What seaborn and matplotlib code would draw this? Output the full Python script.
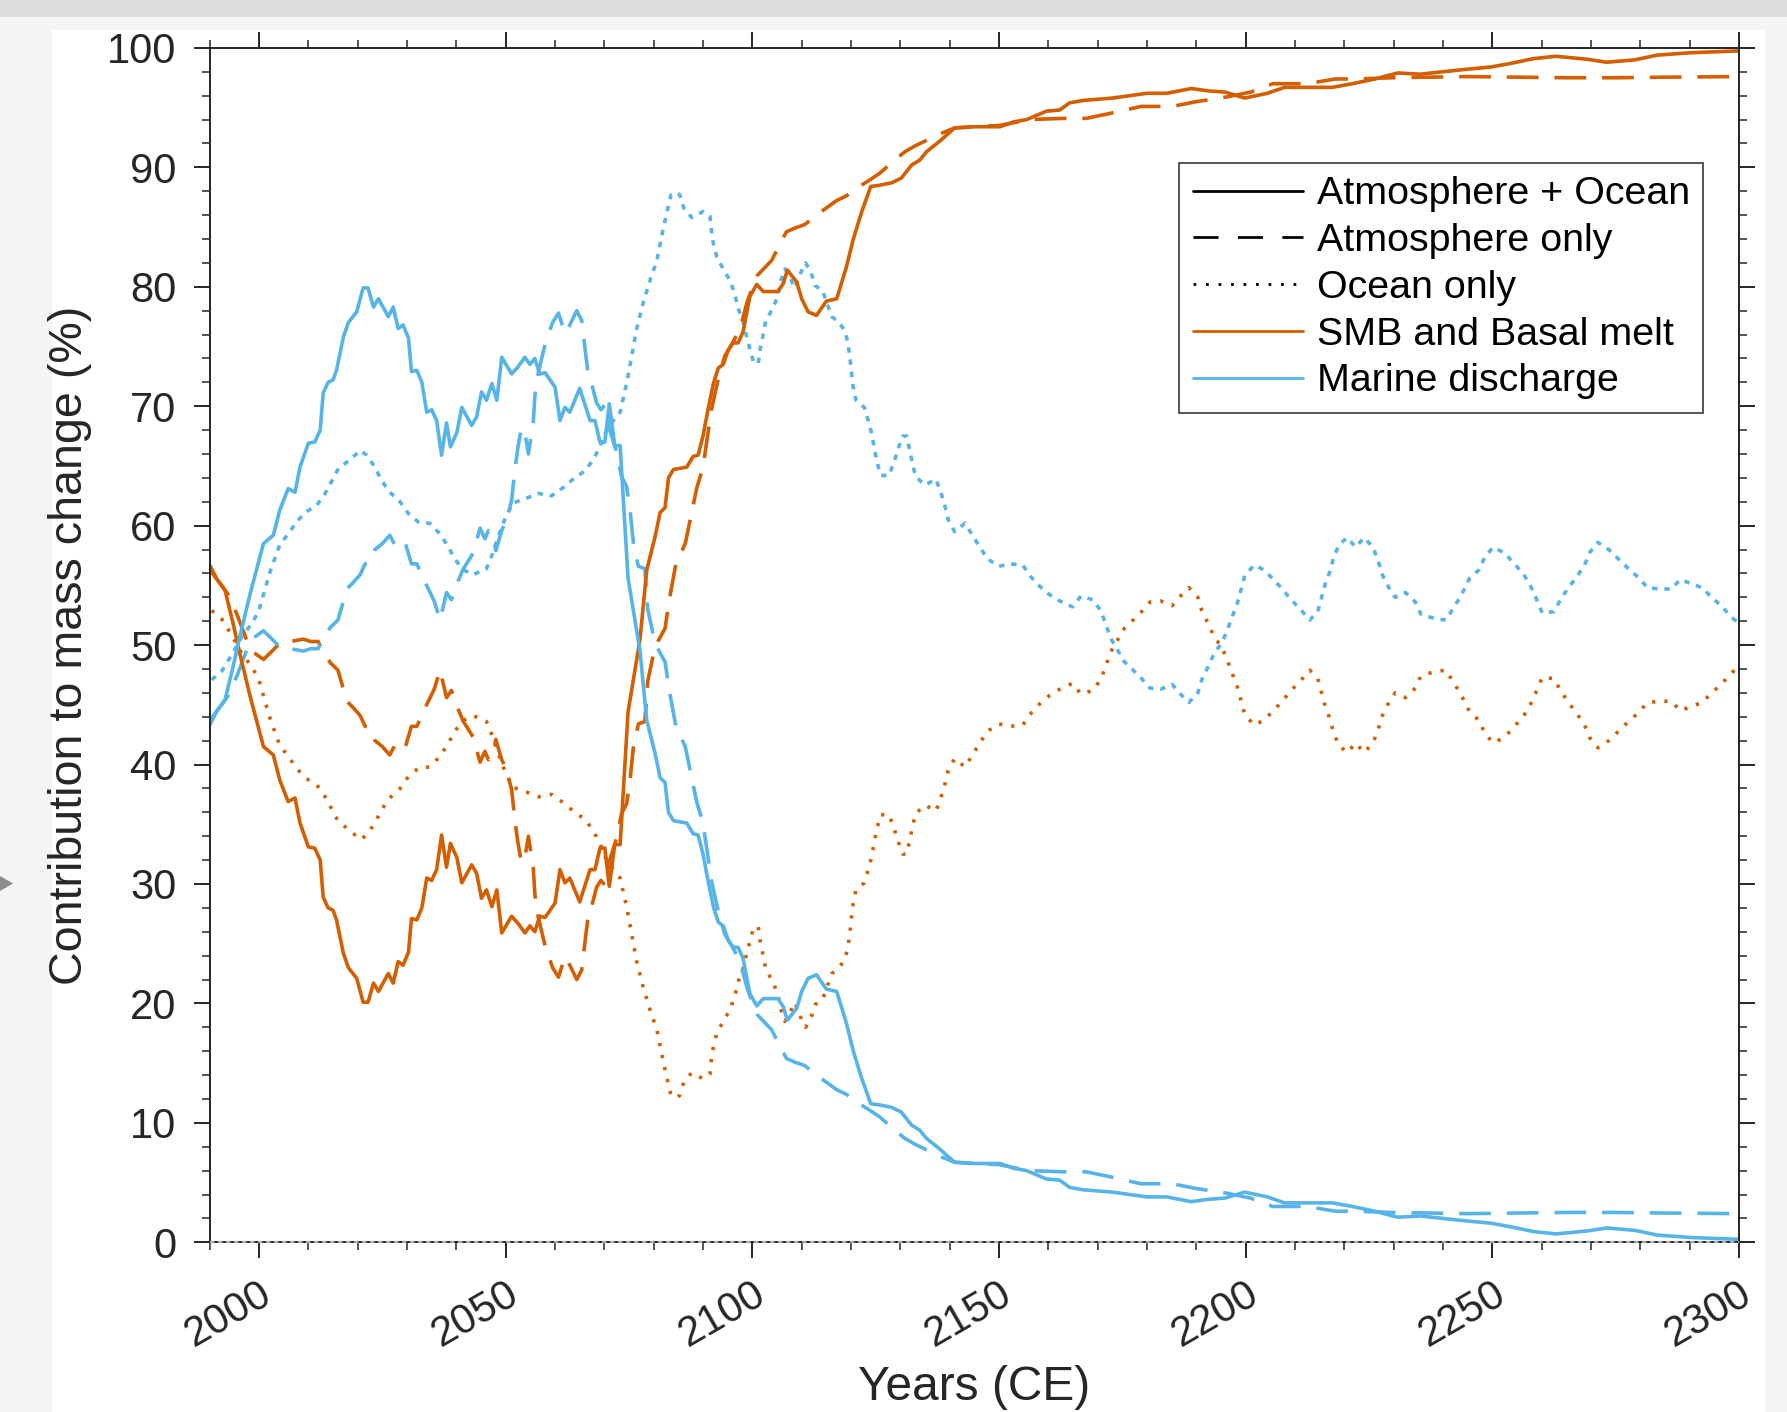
import matplotlib
matplotlib.use("Agg")
import matplotlib.pyplot as plt
import matplotlib.transforms as mtransforms
from matplotlib.lines import Line2D
from matplotlib.patches import Rectangle, Polygon
from matplotlib.ticker import MultipleLocator
import seaborn as sns

# ---------------- data ----------------
solid_years = [1990.0, 1991.5, 1993.1, 1994.8, 1996.1, 1998.2, 2000.9, 2002.9, 2004.2, 2005.9,
               2007.3, 2008.3, 2010.0, 2011.3, 2012.4, 2013.0, 2014.0, 2015.0, 2015.7, 2017.1,
               2018.1, 2019.8, 2021.1, 2022.1, 2023.2, 2024.2, 2026.2, 2027.2, 2028.2, 2029.2,
               2030.3, 2030.9, 2032.0, 2033.0, 2034.0, 2035.0, 2036.0, 2037.0, 2038.0, 2038.8,
               2040.1, 2041.1, 2043.1, 2044.1, 2045.1, 2046.1, 2047.2, 2048.2, 2049.2, 2051.2,
               2052.5, 2053.9, 2054.9, 2055.9, 2056.9, 2058.0, 2060.0, 2061.0, 2062.0, 2063.0,
               2065.0, 2067.1, 2068.1, 2069.1, 2070.1, 2071.0, 2072.1, 2073.2, 2074.8, 2077.2,
               2078.6, 2080.3, 2081.3, 2082.3, 2083.0, 2084.0, 2086.7, 2088.0, 2089.0, 2090.0,
               2091.0, 2092.1, 2093.1, 2094.1, 2095.1, 2096.1, 2097.1, 2098.1, 2099.5, 2100.9,
               2102.2, 2103.6, 2105.2, 2106.3, 2107.1, 2109.0, 2110.0, 2111.3, 2113.0, 2115.0,
               2117.1, 2119.1, 2120.4, 2122.1, 2124.0, 2125.8, 2128.2, 2130.2, 2132.3, 2133.9,
               2135.3, 2138.0, 2141.0, 2145.0, 2150.2, 2152.9, 2155.6, 2159.6, 2162.3, 2164.3,
               2167.0, 2173.0, 2180.0, 2184.0, 2189.0, 2192.4, 2195.8, 2199.8, 2204.4, 2207.9,
               2212.4, 2217.6, 2221.6, 2226.2, 2230.8, 2235.4, 2240.0, 2244.5, 2249.7, 2253.7,
               2258.3, 2262.9, 2269.2, 2273.2, 2278.9, 2283.5, 2290.4, 2300.0]
smb_atm_ocean = [56.7, 55.5, 54.6, 51.7, 49.3, 45.7, 41.5, 40.8, 38.7, 36.9,
                 37.2, 35.1, 33.1, 33.0, 32.0, 28.9, 28.0, 27.8, 27.0, 24.2,
                 23.0, 22.1, 20.1, 20.1, 21.7, 21.0, 22.5, 21.7, 23.5, 23.2,
                 24.3, 27.1, 27.0, 28.0, 30.5, 30.3, 31.2, 34.1, 31.4, 33.4,
                 32.2, 30.1, 31.6, 30.9, 28.8, 29.5, 28.1, 29.5, 25.9, 27.3,
                 26.7, 25.9, 26.5, 26.0, 27.3, 27.2, 28.4, 31.2, 30.1, 30.5,
                 28.5, 31.2, 31.2, 33.0, 33.0, 29.8, 33.3, 33.3, 44.4, 50.4,
                 56.3, 59.1, 61.1, 61.5, 64.0, 64.7, 64.9, 65.8, 65.9, 67.5,
                 69.7, 71.9, 73.2, 73.5, 74.7, 75.3, 75.3, 76.2, 79.2, 80.2,
                 79.6, 79.6, 79.6, 80.3, 81.4, 80.4, 79.0, 77.9, 77.6, 78.8,
                 79.0, 81.7, 83.9, 86.2, 88.4, 88.5, 88.7, 89.1, 90.2, 90.6,
                 91.3, 92.2, 93.3, 93.4, 93.4, 93.8, 94.0, 94.7, 94.8, 95.4,
                 95.6, 95.8, 96.2, 96.2, 96.6, 96.4, 96.3, 95.8, 96.2, 96.7,
                 96.7, 96.7, 97.0, 97.4, 97.9, 97.8, 98.0, 98.2, 98.4, 98.7,
                 99.1, 99.3, 99.05, 98.8, 99.0, 99.4, 99.6, 99.75]
marine_atm_ocean = [43.3, 44.5, 45.4, 48.3, 50.7, 54.3, 58.5, 59.2, 61.3, 63.1,
                    62.8, 64.9, 66.9, 67.0, 68.0, 71.1, 72.0, 72.2, 73.0, 75.8,
                    77.0, 77.9, 79.9, 79.9, 78.3, 79.0, 77.5, 78.3, 76.5, 76.8,
                    75.7, 72.9, 73.0, 72.0, 69.5, 69.7, 68.8, 65.9, 68.6, 66.6,
                    67.8, 69.9, 68.4, 69.1, 71.2, 70.5, 71.9, 70.5, 74.1, 72.7,
                    73.3, 74.1, 73.5, 74.0, 72.7, 72.8, 71.6, 68.8, 69.9, 69.5,
                    71.5, 68.8, 68.8, 67.0, 67.0, 70.2, 66.7, 66.7, 55.6, 49.6,
                    43.7, 40.9, 38.9, 38.5, 36.0, 35.3, 35.1, 34.2, 34.1, 32.5,
                    30.3, 28.1, 26.8, 26.5, 25.3, 24.7, 24.7, 23.8, 20.8, 19.8,
                    20.4, 20.4, 20.4, 19.7, 18.6, 19.6, 21.0, 22.1, 22.4, 21.2,
                    21.0, 18.3, 16.1, 13.8, 11.6, 11.5, 11.3, 10.9, 9.8, 9.4,
                    8.7, 7.8, 6.7, 6.6, 6.6, 6.2, 6.0, 5.3, 5.2, 4.6,
                    4.4, 4.2, 3.8, 3.8, 3.4, 3.6, 3.7, 4.2, 3.8, 3.3,
                    3.3, 3.3, 3.0, 2.6, 2.1, 2.2, 2.0, 1.8, 1.6, 1.3,
                    0.9, 0.7, 0.95, 1.2, 1.0, 0.6, 0.4, 0.25]

dashed_years = [1990.0, 1992.4, 1993.8, 1995.5, 1997.6, 1998.5, 2000.9, 2002.9, 2004.5, 2006.3,
                2009.0, 2010.5, 2012.0, 2012.7, 2014.5, 2016.0, 2017.8, 2019.0, 2020.5, 2021.5,
                2022.5, 2023.5, 2025.0, 2026.5, 2027.5, 2028.5, 2029.6, 2030.9, 2032.0, 2033.5,
                2035.5, 2036.7, 2038.0, 2039.0, 2040.0, 2041.3, 2043.4, 2044.8, 2045.8, 2046.5,
                2047.5, 2048.0, 2049.2, 2050.2, 2051.2, 2051.9, 2052.5, 2053.2, 2054.0, 2054.6,
                2055.6, 2055.9, 2056.6, 2057.3, 2058.0, 2059.5, 2060.7, 2062.0, 2063.0, 2064.4,
                2065.4, 2066.7, 2067.1, 2068.4, 2069.3, 2070.1, 2071.1, 2072.3, 2073.5, 2074.5,
                2075.2, 2075.9, 2076.9, 2078.2, 2078.8, 2080.3, 2082.3, 2083.3, 2084.5, 2086.4,
                2087.4, 2088.7, 2090.0, 2091.0, 2091.7, 2093.1, 2094.4, 2096.0, 2097.5, 2099.0,
                2100.9, 2102.5, 2103.9, 2105.5, 2106.9, 2108.5, 2110.6, 2113.0, 2115.0, 2117.0,
                2119.0, 2122.1, 2124.0, 2125.8, 2128.0, 2130.9, 2133.0, 2135.0, 2138.0, 2141.0,
                2145.0, 2150.0, 2156.2, 2163.0, 2167.7, 2173.5, 2178.8, 2185.1, 2190.0, 2196.3,
                2201.0, 2205.5, 2212.4, 2218.2, 2222.7, 2229.5, 2237.0, 2245.0, 2255.0, 2265.0,
                2275.0, 2285.0, 2300.0]
smb_atm_only = [56.3, 55.0, 54.2, 52.6, 50.3, 49.5, 48.8, 49.6, 50.3, 50.3,
                50.5, 50.3, 50.3, 49.6, 48.5, 47.9, 45.3, 44.8, 44.1, 43.2,
                43.1, 42.0, 41.5, 40.8, 41.6, 41.2, 41.4, 43.2, 43.2, 44.6,
                46.3, 47.9, 45.6, 46.2, 45.0, 43.7, 42.3, 40.2, 41.1, 40.4,
                41.0, 42.1, 40.4, 39.5, 37.9, 35.2, 33.4, 31.8, 32.5, 34.0,
                31.3, 29.2, 27.2, 26.0, 24.8, 23.0, 22.2, 23.9, 23.2, 22.0,
                22.8, 27.3, 27.6, 29.7, 30.3, 29.9, 32.0, 33.6, 35.9, 36.7,
                38.7, 41.5, 43.4, 43.6, 47.0, 49.9, 51.4, 54.1, 56.8, 58.5,
                60.5, 63.1, 64.9, 67.7, 69.7, 72.3, 74.2, 75.3, 76.5, 78.8,
                80.9, 81.6, 82.2, 83.5, 84.6, 84.9, 85.2, 86.0, 86.6, 87.2,
                87.6, 88.5, 89.0, 89.5, 90.3, 91.3, 91.8, 92.2, 92.8, 93.3,
                93.4, 93.5, 94.0, 94.1, 94.1, 94.6, 95.1, 95.1, 95.5, 95.9,
                96.3, 97.0, 97.0, 97.4, 97.4, 97.5, 97.55, 97.6, 97.55, 97.5,
                97.5, 97.55, 97.6]
marine_atm_only = [43.7, 45.0, 45.8, 47.4, 49.7, 50.5, 51.2, 50.4, 49.7, 49.7,
                   49.5, 49.7, 49.7, 50.4, 51.5, 52.1, 54.7, 55.2, 55.9, 56.8,
                   56.9, 58.0, 58.5, 59.2, 58.4, 58.8, 58.6, 56.8, 56.8, 55.4,
                   53.7, 52.1, 54.4, 53.8, 55.0, 56.3, 57.7, 59.8, 58.9, 59.6,
                   59.0, 57.9, 59.6, 60.5, 62.1, 64.8, 66.6, 68.2, 67.5, 66.0,
                   68.7, 70.8, 72.8, 74.0, 75.2, 77.0, 77.8, 76.1, 76.8, 78.0,
                   77.2, 72.7, 72.4, 70.3, 69.7, 70.1, 68.0, 66.4, 64.1, 63.3,
                   61.3, 58.5, 56.6, 56.4, 53.0, 50.1, 48.6, 45.9, 43.2, 41.5,
                   39.5, 36.9, 35.1, 32.3, 30.3, 27.7, 25.8, 24.7, 23.5, 21.2,
                   19.1, 18.4, 17.8, 16.5, 15.4, 15.1, 14.8, 14.0, 13.4, 12.8,
                   12.4, 11.5, 11.0, 10.5, 9.7, 8.7, 8.2, 7.8, 7.2, 6.7,
                   6.6, 6.5, 6.0, 5.9, 5.9, 5.4, 4.9, 4.9, 4.5, 4.1,
                   3.7, 3.0, 3.0, 2.6, 2.6, 2.5, 2.45, 2.4, 2.45, 2.5,
                   2.5, 2.45, 2.4]

dotted_years = [1990.4, 1992.4, 1994.5, 1996.5, 1998.5, 1999.9, 2002.2, 2004.2, 2005.9, 2007.6,
                2009.3, 2011.7, 2013.4, 2014.7, 2016.1, 2018.4, 2020.5, 2021.8, 2023.5, 2024.8,
                2026.5, 2028.6, 2030.3, 2032.3, 2034.6, 2036.7, 2038.4, 2039.7, 2041.4, 2043.4,
                2046.1, 2047.2, 2049.2, 2050.2, 2051.5, 2054.2, 2056.6, 2059.3, 2061.7, 2063.7,
                2066.1, 2067.7, 2069.1, 2070.1, 2071.8, 2073.2, 2074.5, 2075.5, 2076.5, 2077.9,
                2079.6, 2080.6, 2082.0, 2083.5, 2084.5, 2085.3, 2086.1, 2087.7, 2090.0, 2091.4,
                2091.7, 2092.1, 2092.8, 2094.1, 2095.5, 2096.5, 2097.1, 2098.1, 2098.8, 2099.5,
                2100.3, 2101.2, 2101.6, 2102.2, 2102.7, 2104.0, 2105.2, 2105.6, 2106.6, 2107.6,
                2108.6, 2109.6, 2110.8, 2111.9, 2112.7, 2114.2, 2116.1, 2117.4, 2118.8, 2119.4,
                2119.8, 2120.1, 2120.4, 2121.0, 2122.7, 2123.5, 2124.2, 2124.7, 2125.3, 2126.0,
                2127.7, 2128.7, 2129.6, 2130.5, 2131.3, 2131.8, 2132.4, 2133.1, 2135.0, 2137.2,
                2138.2, 2139.0, 2139.7, 2141.0, 2143.1, 2144.6, 2146.1, 2147.7, 2150.0, 2152.2,
                2154.8, 2156.5, 2158.3, 2160.3, 2162.3, 2164.9, 2166.6, 2169.0, 2170.6, 2171.7,
                2172.6, 2174.0, 2175.4, 2177.2, 2178.9, 2180.6, 2182.7, 2185.1, 2187.0, 2188.5,
                2190.3, 2191.1, 2192.4, 2193.6, 2195.2, 2196.3, 2197.3, 2198.3, 2199.1, 2199.8,
                2201.7, 2203.7, 2205.6, 2207.4, 2209.2, 2211.1, 2213.0, 2214.6, 2215.4, 2216.1,
                2217.1, 2217.8, 2218.9, 2220.6, 2222.3, 2224.0, 2225.8, 2226.9, 2227.7, 2228.9,
                2230.3, 2232.4, 2234.4, 2235.5, 2236.8, 2238.6, 2240.6, 2242.1, 2243.6, 2245.4,
                2247.3, 2248.5, 2250.2, 2252.5, 2254.5, 2256.4, 2257.8, 2259.0, 2260.1, 2262.5,
                2263.8, 2265.4, 2267.1, 2268.7, 2269.8, 2271.4, 2273.6, 2275.6, 2277.6, 2279.5,
                2281.5, 2284.0, 2286.3, 2288.1, 2290.5, 2292.6, 2294.4, 2296.4, 2298.3, 2300.0]
smb_ocean_only = [52.9, 52.2, 50.8, 49.3, 48.2, 47.2, 43.9, 41.6, 40.7, 39.7,
                  38.9, 38.3, 37.3, 36.3, 35.2, 34.5, 33.7, 34.1, 35.1, 36.2,
                  37.2, 38.0, 39.0, 39.7, 39.8, 40.7, 41.8, 42.8, 43.7, 44.1,
                  43.6, 42.5, 40.1, 39.1, 38.1, 37.7, 37.3, 37.5, 36.8, 36.1,
                  35.4, 34.5, 33.4, 32.3, 31.2, 30.5, 28.1, 25.9, 23.6, 21.3,
                  19.0, 17.9, 15.0, 12.3, 12.1, 12.3, 13.4, 14.2, 13.7, 14.1,
                  15.3, 16.4, 17.5, 18.5, 19.5, 20.7, 21.8, 22.9, 24.1, 25.2,
                  26.4, 26.4, 25.2, 24.0, 22.9, 21.9, 20.8, 19.7, 18.5, 19.2,
                  20.1, 19.0, 18.0, 18.8, 19.9, 20.3, 22.5, 22.9, 23.7, 24.8,
                  26.0, 27.2, 28.3, 29.5, 30.1, 31.2, 32.3, 33.5, 34.7, 35.8,
                  35.8, 34.7, 33.5, 32.5, 32.5, 33.5, 34.7, 35.9, 36.6, 36.1,
                  37.2, 38.3, 39.5, 40.5, 39.8, 40.8, 41.8, 42.8, 43.4, 43.2,
                  43.3, 44.3, 45.1, 45.8, 46.3, 46.8, 45.9, 46.2, 47.1, 48.3,
                  49.4, 50.4, 51.4, 52.1, 52.8, 53.6, 53.7, 53.3, 54.2, 54.8,
                  54.0, 52.9, 51.8, 50.7, 49.8, 48.7, 47.6, 46.5, 45.3, 44.2,
                  43.3, 43.7, 44.5, 45.3, 46.2, 47.0, 47.9, 47.2, 46.0, 44.9,
                  43.8, 42.7, 41.6, 41.0, 41.8, 41.0, 41.8, 43.0, 44.1, 45.1,
                  46.0, 45.6, 46.4, 47.4, 47.6, 47.8, 47.9, 46.9, 45.9, 44.4,
                  43.7, 42.6, 41.8, 42.3, 43.2, 44.1, 45.1, 46.2, 47.3, 47.2,
                  46.2, 45.2, 44.3, 43.3, 42.2, 41.4, 42.0, 42.8, 43.6, 44.3,
                  45.2, 45.3, 45.3, 44.5, 44.9, 45.2, 46.0, 46.7, 47.6, 48.2]
marine_ocean_only = [47.1, 47.8, 49.2, 50.7, 51.8, 52.8, 56.1, 58.4, 59.3, 60.3,
                     61.1, 61.7, 62.7, 63.7, 64.8, 65.5, 66.3, 65.9, 64.9, 63.8,
                     62.8, 62.0, 61.0, 60.3, 60.2, 59.3, 58.2, 57.2, 56.3, 55.9,
                     56.4, 57.5, 59.9, 60.9, 61.9, 62.3, 62.7, 62.5, 63.2, 63.9,
                     64.6, 65.5, 66.6, 67.7, 68.8, 69.5, 71.9, 74.1, 76.4, 78.7,
                     81.0, 82.1, 85.0, 87.7, 87.9, 87.7, 86.6, 85.8, 86.3, 85.9,
                     84.7, 83.6, 82.5, 81.5, 80.5, 79.3, 78.2, 77.1, 75.9, 74.8,
                     73.6, 73.6, 74.8, 76.0, 77.1, 78.1, 79.2, 80.3, 81.5, 80.8,
                     79.9, 81.0, 82.0, 81.2, 80.1, 79.7, 77.5, 77.1, 76.3, 75.2,
                     74.0, 72.8, 71.7, 70.5, 69.9, 68.8, 67.7, 66.5, 65.3, 64.2,
                     64.2, 65.3, 66.5, 67.5, 67.5, 66.5, 65.3, 64.1, 63.4, 63.9,
                     62.8, 61.7, 60.5, 59.5, 60.2, 59.2, 58.2, 57.2, 56.6, 56.8,
                     56.7, 55.7, 54.9, 54.2, 53.7, 53.2, 54.1, 53.8, 52.9, 51.7,
                     50.6, 49.6, 48.6, 47.9, 47.2, 46.4, 46.3, 46.7, 45.8, 45.2,
                     46.0, 47.1, 48.2, 49.3, 50.2, 51.3, 52.4, 53.5, 54.7, 55.8,
                     56.7, 56.3, 55.5, 54.7, 53.8, 53.0, 52.1, 52.8, 54.0, 55.1,
                     56.2, 57.3, 58.4, 59.0, 58.2, 59.0, 58.2, 57.0, 55.9, 54.9,
                     54.0, 54.4, 53.6, 52.6, 52.4, 52.2, 52.1, 53.1, 54.1, 55.6,
                     56.3, 57.4, 58.2, 57.7, 56.8, 55.9, 54.9, 53.8, 52.7, 52.8,
                     53.8, 54.8, 55.7, 56.7, 57.8, 58.6, 58.0, 57.2, 56.4, 55.7,
                     54.8, 54.7, 54.7, 55.5, 55.1, 54.8, 54.0, 53.3, 52.4, 51.8]

legend_labels = ["Atmosphere + Ocean", "Atmosphere only", "Ocean only",
                 "SMB and Basal melt", "Marine discharge"]
x_ticks = [2000, 2050, 2100, 2150, 2200, 2250, 2300]
y_ticks = [0, 10, 20, 30, 40, 50, 60, 70, 80, 90, 100]

ORANGE = "#D55E00"
BLUE = "#56B4E9"
DARK = "#262626"

# ---------------- figure ----------------
sns.set_style("white")
plt.rcParams["font.family"] = ["Liberation Sans", "DejaVu Sans"]

W, H, DPI = 1787, 1412, 100
fig = plt.figure(figsize=(W / DPI, H / DPI), dpi=DPI, facecolor="#f4f4f4")
fig.patches.append(Rectangle((0, 1 - 17 / H), 1, 17 / H, transform=fig.transFigure,
                             facecolor="#dcdcdc", edgecolor="none", zorder=-10))
fig.patches.append(Rectangle((52 / W, 0), (1765 - 52) / W, (H - 30) / H, transform=fig.transFigure,
                             facecolor="white", edgecolor="none", zorder=-9))
fig.patches.append(Polygon([(0, 1 - 876 / H), (0, 1 - 891 / H), (13 / W, 1 - 883.5 / H)],
                           closed=True, transform=fig.transFigure,
                           facecolor="#8c8c8c", edgecolor="none"))

ax = fig.add_axes([209.7 / W, 1 - 1242.3 / H, 1529.3 / W, 1194.4 / H])
ax.set_facecolor("white")

LW = 2.6
DASH = (0, (8.8, 4.4))
DOT_O = (0, (0.9, 2.5))
DOT_B = (0, (1.5, 1.9))

series = [
    (dotted_years, smb_ocean_only, ORANGE, DOT_O),
    (dotted_years, marine_ocean_only, BLUE, DOT_B),
    (dashed_years, smb_atm_only, ORANGE, DASH),
    (dashed_years, marine_atm_only, BLUE, DASH),
    (solid_years, smb_atm_ocean, ORANGE, "-"),
    (solid_years, marine_atm_ocean, BLUE, "-"),
]
for xs, ys, col, ls in series:
    sns.lineplot(x=xs, y=ys, ax=ax, color=col, linewidth=LW, linestyle=ls,
                 estimator=None, sort=False, legend=False)

ax.axhline(0, color="#a8a8a8", lw=1.6, ls=(0, (2, 1.6)), zorder=3, clip_on=False)

ax.set_xlim(1990, 2300)
ax.set_ylim(0, 100)
ax.set_xticks(x_ticks)
ax.set_yticks(y_ticks)
ax.xaxis.set_minor_locator(MultipleLocator(10))
ax.yaxis.set_minor_locator(MultipleLocator(2))

for sp in ax.spines.values():
    sp.set_visible(True)
    sp.set_color(DARK)
    sp.set_linewidth(1.4)

ax.tick_params(which="both", direction="out", top=True, right=True, bottom=True, left=True,
               color=DARK, labelcolor=DARK)
ax.tick_params(which="major", length=11.5, width=1.4)
ax.tick_params(which="minor", length=6, width=1.1)
ax.tick_params(axis="y", which="major", labelsize=30, pad=12.5)
ax.tick_params(axis="x", which="major", labelsize=30, pad=23.5)

ax.set_xticklabels([str(t) for t in x_ticks], rotation=30, ha="right", va="center",
                   rotation_mode="anchor")
offset = mtransforms.ScaledTranslation(10 / DPI, 0, fig.dpi_scale_trans)
for lab in ax.get_xticklabels():
    lab.set_transform(lab.get_transform() + offset)

ax.set_xlabel("Years (CE)", fontsize=34.5, color=DARK)
ax.xaxis.set_label_coords(0.5, -0.1025)
ax.set_ylabel("Contribution to mass change (%)", fontsize=33.6, color=DARK)
ax.yaxis.set_label_coords(-0.077, 0.5)

handles = [
    Line2D([], [], color="black", lw=2.0, ls="-"),
    Line2D([], [], color="black", lw=2.0, ls=(0, (9, 7))),
    Line2D([], [], color="black", lw=2.0, ls=(0, (1, 3.5))),
    Line2D([], [], color=ORANGE, lw=2.0, ls="-"),
    Line2D([], [], color=BLUE, lw=2.0, ls="-"),
]
leg = ax.legend(handles, legend_labels, loc="upper right", bbox_to_anchor=(0.9765, 0.9036),
                borderaxespad=0, fontsize=28.4, frameon=True, fancybox=False,
                edgecolor=DARK, framealpha=1, borderpad=0.34, labelspacing=0.272,
                handlelength=2.8, handletextpad=0.34)
leg.get_frame().set_linewidth(1.1)
for t in leg.get_texts():
    t.set_color("black")

fig.savefig("out.png", dpi=DPI, facecolor=fig.get_facecolor())
